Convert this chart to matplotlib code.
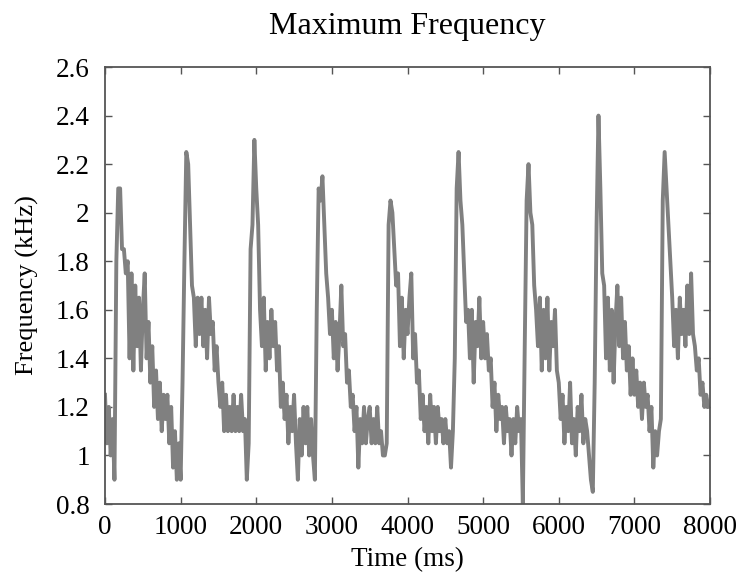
import numpy as np
from matplotlib import pyplot as plt

plt.rcParams['font.family'] = ['Liberation Serif', 'DejaVu Serif']

# sampling grid of the recording (ms), one value every 25 ms
time_ms = np.arange(0, 8000, 25)

# maximum frequency (kHz), one row per 500 ms
max_freq_khz = [
    1.25, 1.05, 1.2, 1.0, 1.15, 0.9, 1.8, 2.1, 2.1, 1.85, 1.85, 1.75, 1.8, 1.4, 1.75, 1.35, 1.7, 1.45, 1.65, 1.35,
    1.6, 1.75, 1.4, 1.55, 1.3, 1.45, 1.2, 1.35, 1.15, 1.3, 1.1, 1.25, 1.15, 1.25, 1.05, 1.2, 0.95, 1.1, 0.9, 1.05,
    0.9, 1.3, 1.8, 2.25, 2.2, 1.95, 1.7, 1.65, 1.45, 1.65, 1.5, 1.65, 1.45, 1.6, 1.4, 1.65, 1.5, 1.55, 1.35, 1.45,
    1.3, 1.2, 1.3, 1.1, 1.25, 1.1, 1.2, 1.1, 1.25, 1.1, 1.2, 1.1, 1.25, 1.1, 1.15, 0.9, 1.05, 1.85, 1.95, 2.3,
    2.1, 1.95, 1.6, 1.45, 1.65, 1.35, 1.55, 1.4, 1.6, 1.45, 1.55, 1.35, 1.45, 1.2, 1.3, 1.15, 1.25, 1.05, 1.2, 1.1,
    1.25, 1.05, 0.9, 1.15, 1.0, 1.2, 1.05, 1.2, 1.0, 1.15, 1.0, 0.9, 1.6, 2.1, 2.05, 2.15, 1.95, 1.75, 1.65, 1.5,
    1.6, 1.4, 1.55, 1.35, 1.5, 1.7, 1.45, 1.5, 1.3, 1.35, 1.2, 1.25, 1.1, 1.2, 0.95, 1.15, 1.05, 1.2, 1.05, 1.15,
    1.2, 1.05, 1.15, 1.05, 1.2, 1.05, 1.1, 1.0, 1.0, 1.05, 1.95, 2.05, 2.0, 1.85, 1.7, 1.75, 1.45, 1.65, 1.4, 1.6,
    1.5, 1.65, 1.75, 1.4, 1.5, 1.3, 1.35, 1.15, 1.25, 1.1, 1.2, 1.05, 1.25, 1.1, 1.2, 1.05, 1.2, 1.1, 1.15, 1.05,
    1.15, 1.05, 1.1, 0.95, 1.1, 1.4, 2.1, 2.25, 2.05, 1.95, 1.75, 1.55, 1.6, 1.4, 1.6, 1.3, 1.55, 1.45, 1.65, 1.4,
    1.55, 1.4, 1.5, 1.35, 1.4, 1.2, 1.3, 1.1, 1.25, 1.15, 1.2, 1.05, 1.2, 1.1, 1.15, 1.0, 1.15, 1.05, 1.2, 1.1,
    1.15, 0.8, 1.45, 2.05, 2.2, 2.0, 1.95, 1.7, 1.6, 1.45, 1.65, 1.35, 1.6, 1.4, 1.65, 1.35, 1.55, 1.45, 1.6, 1.35,
    1.3, 1.15, 1.25, 1.05, 1.2, 1.1, 1.3, 1.05, 1.15, 1.0, 1.2, 1.1, 1.25, 1.05, 1.15, 1.1, 1.0, 0.9, 0.85, 1.3,
    1.95, 2.4, 2.1, 1.75, 1.7, 1.4, 1.65, 1.35, 1.6, 1.3, 1.55, 1.7, 1.45, 1.65, 1.4, 1.55, 1.35, 1.45, 1.25, 1.4,
    1.25, 1.35, 1.2, 1.3, 1.15, 1.3, 1.2, 1.25, 1.1, 1.2, 0.95, 1.1, 1.0, 1.1, 1.15, 2.05, 2.25, 2.1, 1.95, 1.8,
    1.65, 1.45, 1.6, 1.4, 1.65, 1.5, 1.6, 1.45, 1.7, 1.5, 1.75, 1.5, 1.45, 1.35, 1.4, 1.25, 1.3, 1.2, 1.25, 1.2,
]

x_ticks = [0, 1000, 2000, 3000, 4000, 5000, 6000, 7000, 8000]
y_ticks = [0.8, 1.0, 1.2, 1.4, 1.6, 1.8, 2.0, 2.2, 2.4, 2.6]
y_tick_labels = ['0.8', '1', '1.2', '1.4', '1.6', '1.8', '2', '2.2', '2.4', '2.6']

fig = plt.figure(figsize=(7.5, 5.83), dpi=100)
ax = fig.add_axes([0.14, 0.1355, 0.8067, 0.7495])

ax.plot(time_ms, max_freq_khz, color='#808080', linewidth=2.8)

ax.set_xlim(0, 8000)
ax.set_ylim(0.8, 2.6)
ax.set_xticks(x_ticks)
ax.set_yticks(y_ticks)
ax.set_yticklabels(y_tick_labels)
ax.tick_params(direction='in', length=5, width=1, colors='#555555',
               top=True, right=True, labelsize=19.5, labelcolor='black')
ax.tick_params(axis='x', pad=8)
ax.tick_params(axis='y', pad=11)
for spine in ax.spines.values():
    spine.set_color('#555555')
    spine.set_linewidth(1.3)

ax.set_title('Maximum Frequency', fontsize=23, pad=24)
ax.set_xlabel('Time (ms)', fontsize=19.5, labelpad=5)
ax.set_ylabel('Frequency (kHz)', fontsize=19, labelpad=12)

fig.savefig('out.png', dpi=100)
